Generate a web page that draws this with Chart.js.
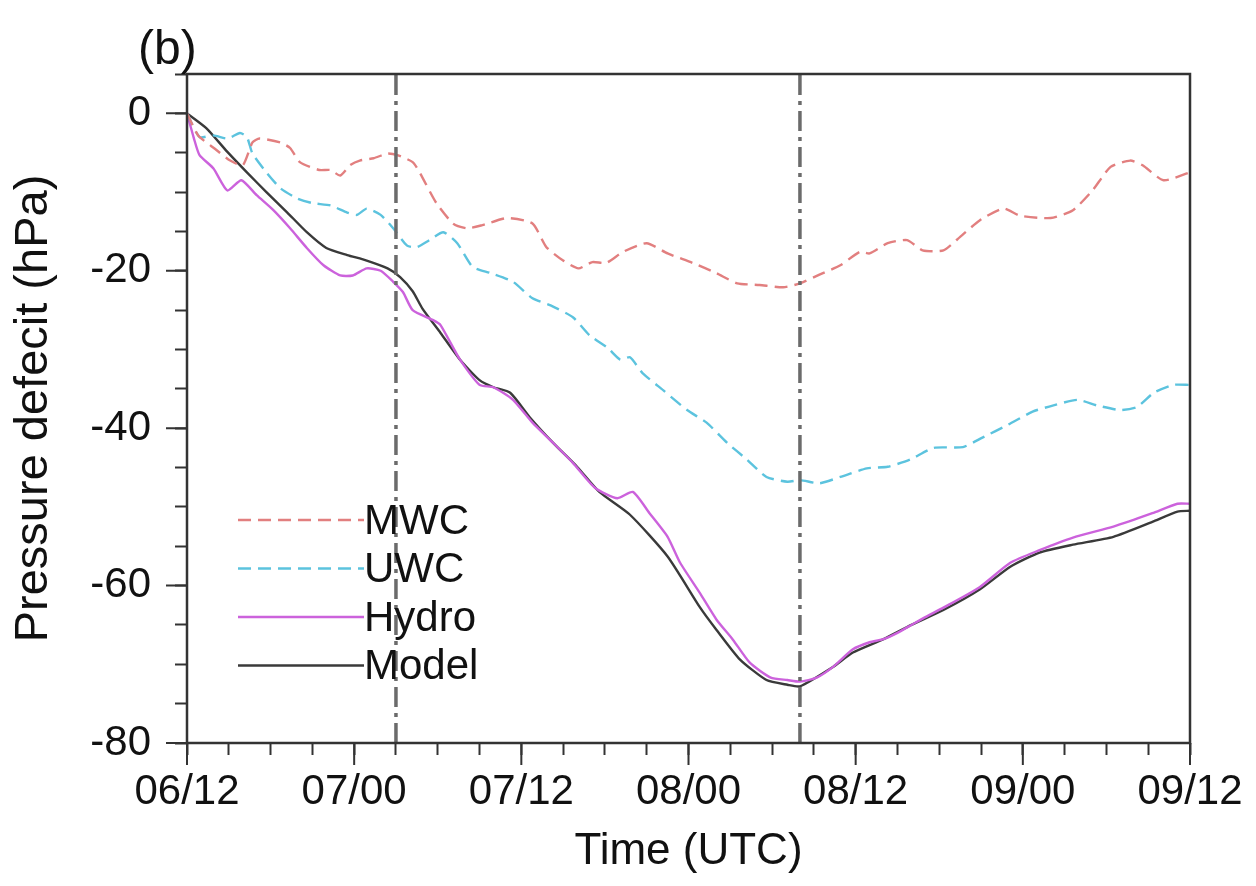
<!DOCTYPE html>
<html>
<head>
<meta charset="utf-8">
<script src="https://cdn.jsdelivr.net/npm/chart.js@4.4.1/dist/chart.umd.min.js"></script>
<style>
  html, body { margin: 0; padding: 0; background: #fff; }
</style>
</head>
<body>
<canvas id="chart" width="1256" height="886"></canvas>
<script>
// hours since 06/12 UTC
const tickLabels = ['06/12', '07/00', '07/12', '08/00', '08/12', '09/00', '09/12']
const markerHours = [15, 44]

const mwcHours = [0, 0.8, 2, 3.1, 4, 4.7, 5.2, 6.7, 7.4, 8.1, 9.5, 10.3, 11, 11.7, 12.4, 13.4, 14.4, 15.1, 16.2, 16.7, 17.9, 19.1, 20.1, 21.2, 23, 24.8, 25.8, 27, 28.1, 29.1, 30.1, 31.3, 33, 34.5, 36.3, 38, 39.5, 41.1, 42.8, 44, 45.4, 46.9, 48.3, 49, 50.3, 51.7, 52.8, 54.3, 55.5, 56.9, 58.6, 59.8, 62, 63.6, 65, 66.3, 67.7, 68.6, 70.1, 72]
const mwcValues = [0, -2.8, -4.5, -6.0, -6.6, -3.7, -3.2, -3.7, -4.4, -6.2, -7.2, -7.2, -7.9, -6.6, -6.0, -5.7, -5.1, -5.3, -6.2, -7.5, -11.4, -14.0, -14.6, -14.2, -13.3, -14.0, -17.0, -18.7, -19.7, -18.9, -19.0, -17.6, -16.5, -17.8, -19.0, -20.3, -21.6, -21.8, -22.1, -21.6, -20.5, -19.3, -17.6, -17.8, -16.5, -16.1, -17.4, -17.4, -15.7, -13.6, -12.1, -13.0, -13.3, -12.3, -9.8, -6.8, -6.0, -6.6, -8.5, -7.5]

const uwcHours = [0, 0.9, 1.9, 2.9, 3.8, 4.3, 4.7, 5.7, 6.7, 7.9, 9, 10.3, 11.5, 12.2, 12.9, 13.9, 14.8, 15.8, 16.5, 17.4, 18.4, 19.4, 20.5, 21.8, 23.4, 24.8, 26.1, 27.7, 28.9, 30.2, 31.1, 31.8, 32.7, 34.2, 35.9, 37.3, 38.8, 40.2, 41.6, 43.1, 44, 45.4, 46.9, 48.8, 50.3, 51.9, 53.6, 55.7, 57.1, 58.9, 60.7, 62.2, 63.9, 65.3, 67, 68.2, 69.4, 70.8, 72]
const uwcValues = [0, -3.0, -2.8, -3.2, -2.5, -3.0, -5.1, -7.5, -9.5, -10.8, -11.4, -11.7, -12.6, -12.9, -12.1, -12.9, -14.6, -16.8, -17.0, -16.1, -15.1, -16.5, -19.5, -20.3, -21.4, -23.5, -24.4, -25.9, -28.2, -29.8, -31.3, -31.0, -33.0, -35.2, -37.7, -39.3, -41.9, -44.0, -46.2, -46.8, -46.6, -47.0, -46.2, -45.1, -44.9, -44.0, -42.5, -42.4, -41.2, -39.6, -37.9, -37.1, -36.4, -37.1, -37.7, -37.3, -35.5, -34.5, -34.5]

const hydroHours = [0, 0.5, 0.9, 1.9, 2.9, 3.9, 5, 6.2, 7.4, 8.6, 9.8, 11, 11.9, 12.9, 13.9, 14.8, 15.5, 16.2, 17.7, 18.2, 19.6, 21, 22, 23.4, 24.8, 26.3, 27.7, 29.3, 30.9, 32, 33.2, 34.5, 35.4, 36.8, 38, 39.2, 40.4, 41.9, 43.1, 44, 45.2, 46.4, 47.8, 49, 50, 51, 52, 53, 54.3, 56.9, 59.1, 61.2, 63.6, 66.5, 69.3, 71.1, 72]
const hydroValues = [0, -3.2, -5.3, -7.0, -9.8, -8.5, -10.4, -12.3, -14.6, -17.1, -19.3, -20.6, -20.6, -19.7, -20.0, -21.4, -22.7, -25.0, -26.3, -26.9, -31.3, -34.5, -34.8, -36.4, -39.3, -41.9, -44.4, -47.6, -48.9, -48.1, -50.8, -53.8, -57.1, -60.9, -64.3, -66.9, -69.8, -71.7, -72.0, -72.2, -71.7, -70.3, -68.1, -67.2, -66.8, -66.0, -65.0, -64.0, -62.8, -60.2, -57.1, -55.5, -53.9, -52.5, -50.8, -49.6, -49.6]

const modelHours = [0, 1.4, 2.9, 4.3, 5.7, 7.2, 8.6, 10, 11.5, 12.9, 14.4, 15.3, 16.2, 16.9, 18.2, 19.6, 21, 22, 23.2, 24.6, 26.3, 28, 29.6, 31.8, 34.5, 36.8, 38, 39.7, 41.6, 43.1, 44, 46.4, 47.8, 50, 52, 54.3, 56.9, 59.1, 61.2, 63.6, 66.5, 69.3, 71.1, 72]
const modelValues = [0, -1.9, -4.9, -7.5, -10.0, -12.6, -15.1, -17.1, -18.0, -18.7, -19.7, -20.8, -22.6, -24.8, -27.9, -31.3, -33.9, -34.8, -35.5, -38.6, -41.9, -44.9, -48.1, -51.0, -56.3, -62.7, -65.6, -69.4, -72.0, -72.6, -72.8, -70.3, -68.5, -66.8, -65.0, -63.1, -60.5, -57.6, -55.8, -54.8, -53.8, -51.9, -50.6, -50.5]

const FONT = '"Liberation Sans", Arial, sans-serif'
const Y_MIN = -80, Y_MAX = 5

const toPoints = (hours, values) => hours.map((h, i) => ({ x: h, y: values[i] }))

const series = [
  { label: 'MWC', hours: mwcHours, values: mwcValues, color: '#e27f7f', dash: [13, 7] },
  { label: 'UWC', hours: uwcHours, values: uwcValues, color: '#5cc3de', dash: [13, 7] },
  { label: 'Hydro', hours: hydroHours, values: hydroValues, color: '#cc62dc', dash: [] },
  { label: 'Model', hours: modelHours, values: modelValues, color: '#3a3a3a', dash: [] }
]

const datasets = markerHours.map(h => ({
  label: 'marker',
  data: [{ x: h, y: Y_MIN }, { x: h, y: Y_MAX }],
  borderColor: '#6b6b6b',
  borderWidth: 3.5,
  borderDash: [20, 6, 4, 6],
  pointRadius: 0,
  fill: false
})).concat(series.map(s => ({
  label: s.label,
  data: toPoints(s.hours, s.values),
  borderColor: s.color,
  borderWidth: 2.4,
  borderDash: s.dash,
  pointRadius: 0,
  tension: 0.2,
  fill: false
})))

// frame, longer major ticks, panel letter and legend
const decorations = {
  id: 'decorations',
  afterDraw(chart) {
    const { ctx, chartArea: a, scales } = chart
    ctx.save()
    ctx.strokeStyle = '#333'
    ctx.lineWidth = 2.5
    ctx.setLineDash([])
    ctx.strokeRect(a.left, a.top, a.right - a.left, a.bottom - a.top)

    ctx.lineWidth = 2
    ctx.beginPath()
    for (let v = -80; v <= 0; v += 20) {
      const y = scales.y.getPixelForValue(v)
      ctx.moveTo(a.left, y)
      ctx.lineTo(a.left - 21, y)
    }
    for (let h = 0; h <= 72; h += 12) {
      const x = scales.x.getPixelForValue(h)
      ctx.moveTo(x, a.bottom)
      ctx.lineTo(x, a.bottom + 22)
    }
    ctx.stroke()

    ctx.fillStyle = '#111'
    ctx.font = '48px ' + FONT
    ctx.textBaseline = 'alphabetic'
    ctx.fillText('(b)', 138, 64)

    // legend
    ctx.font = '42px ' + FONT
    ctx.textBaseline = 'middle'
    series.forEach((s, i) => {
      const y = 520 + i * 48.5
      ctx.strokeStyle = s.color
      ctx.lineWidth = 2.4
      ctx.setLineDash(s.dash)
      ctx.beginPath()
      ctx.moveTo(238, y)
      ctx.lineTo(364, y)
      ctx.stroke()
      ctx.fillStyle = '#111'
      ctx.fillText(s.label, 364, y + 2)
    })
    ctx.restore()
  }
}

new Chart(document.getElementById('chart').getContext('2d'), {
  type: 'line',
  data: { datasets },
  options: {
    responsive: false,
    animation: false,
    layout: { padding: { top: 74, right: 66, left: 6, bottom: 0 } },
    plugins: { legend: { display: false }, tooltip: { enabled: false } },
    scales: {
      x: {
        type: 'linear',
        min: 0,
        max: 72,
        afterFit: s => { s.height = 886 - 743 },
        border: { display: false },
        grid: { drawOnChartArea: false, drawTicks: true, tickLength: 12, tickColor: '#333', tickWidth: 2 },
        ticks: {
          stepSize: 3,
          autoSkip: false,
          maxRotation: 0,
          padding: 12,
          color: '#111',
          font: { family: FONT, size: 42 },
          callback: v => (v % 12 === 0 ? tickLabels[v / 12] : '')
        },
        title: {
          display: true,
          text: 'Time (UTC)',
          color: '#111',
          font: { family: FONT, size: 44 },
          padding: { top: 2, bottom: 8 }
        }
      },
      y: {
        min: Y_MIN,
        max: Y_MAX,
        afterFit: s => { s.width = 187 - 6 },
        border: { display: false },
        grid: { drawOnChartArea: false, drawTicks: true, tickLength: 12, tickColor: '#333', tickWidth: 2 },
        ticks: {
          stepSize: 5,
          autoSkip: false,
          padding: 24,
          color: '#111',
          font: { family: FONT, size: 42 },
          callback: v => (v % 20 === 0 ? String(v) : '')
        },
        title: {
          display: true,
          text: 'Pressure defecit (hPa)',
          color: '#111',
          font: { family: FONT, size: 47 },
          padding: { top: 0, bottom: 0 }
        }
      }
    }
  },
  plugins: [decorations]
})
</script>
</body>
</html>
